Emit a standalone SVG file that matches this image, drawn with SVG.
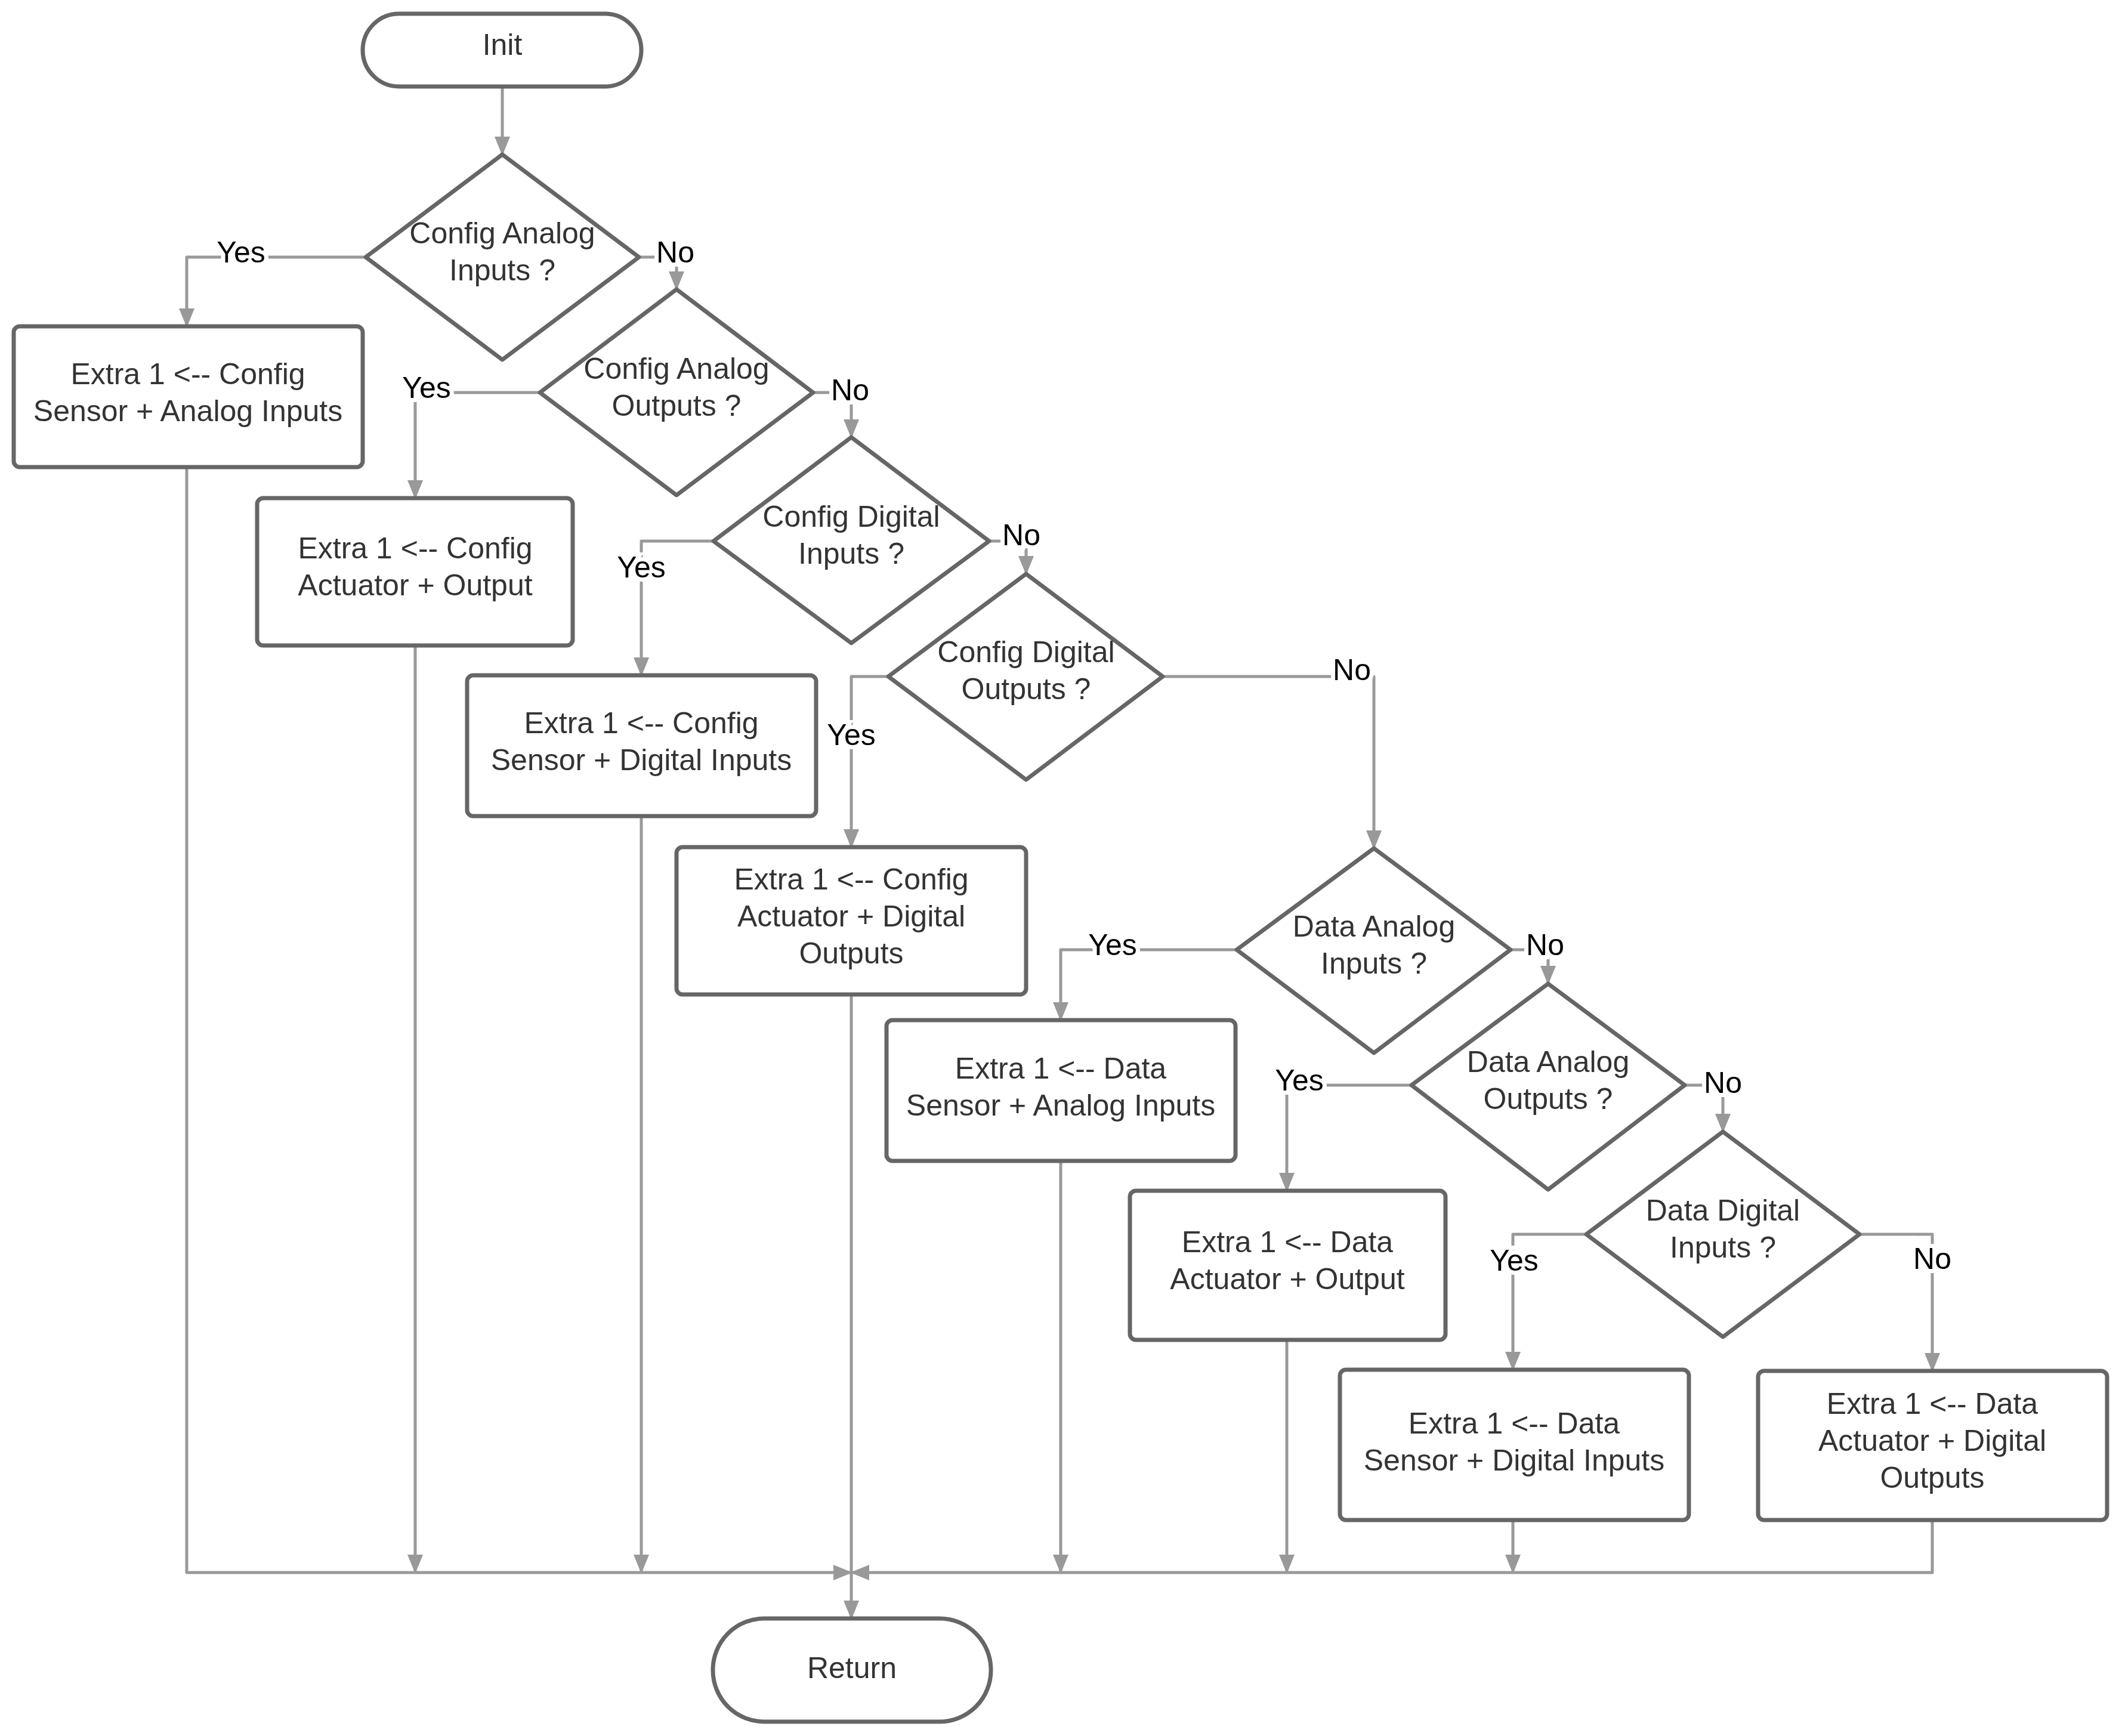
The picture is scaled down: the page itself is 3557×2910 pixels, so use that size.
<svg xmlns="http://www.w3.org/2000/svg" width="3557" height="2910" viewBox="0 0 3557 2910">
<style>
.n{fill:#fff;stroke:#666;stroke-width:7}
.t{font-family:"Liberation Sans",Arial,sans-serif;font-size:50px;fill:#333;text-anchor:middle;dominant-baseline:middle}
.c{fill:none;stroke:#999;stroke-width:5;stroke-linejoin:round}
.l{font-family:"Liberation Sans",Arial,sans-serif;font-size:50px;fill:#000;text-anchor:middle;dominant-baseline:middle;stroke:#fff;stroke-width:14;paint-order:stroke}
</style>
<defs>
<marker id="a" markerUnits="userSpaceOnUse" markerWidth="32" markerHeight="26" refX="30" refY="13" orient="auto"><path d="M0 0L32 13L0 26z" fill="#999"/></marker>
</defs>
<g id="connectors">
<path class="c" d="M842 145V259" marker-end="url(#a)"/>
<path class="c" d="M610 431H313V547" marker-end="url(#a)"/>
<path class="c" d="M1071 431H1134V485" marker-end="url(#a)"/>
<path class="c" d="M905 658H696V835" marker-end="url(#a)"/>
<path class="c" d="M1363 658H1427V733" marker-end="url(#a)"/>
<path class="c" d="M1195 907H1075V1132" marker-end="url(#a)"/>
<path class="c" d="M1658 907H1720V962" marker-end="url(#a)"/>
<path class="c" d="M1488 1134H1427V1420" marker-end="url(#a)"/>
<path class="c" d="M1949 1134H2303V1422" marker-end="url(#a)"/>
<path class="c" d="M2073 1592H1778V1710" marker-end="url(#a)"/>
<path class="c" d="M2532 1592H2595V1649" marker-end="url(#a)"/>
<path class="c" d="M2366 1819H2157V1996" marker-end="url(#a)"/>
<path class="c" d="M2824 1819H2888V1897" marker-end="url(#a)"/>
<path class="c" d="M2659 2069H2536V2296" marker-end="url(#a)"/>
<path class="c" d="M3117 2069H3239V2298" marker-end="url(#a)"/>
<path class="c" d="M313 783V2636H1427" marker-end="url(#a)"/>
<path class="c" d="M3239 2548V2636H1427" marker-end="url(#a)"/>
<path class="c" d="M696 1082V2636" marker-end="url(#a)"/>
<path class="c" d="M1075 1368V2636" marker-end="url(#a)"/>
<path class="c" d="M1778 1946V2636" marker-end="url(#a)"/>
<path class="c" d="M2157 2246V2636" marker-end="url(#a)"/>
<path class="c" d="M2536 2548V2636" marker-end="url(#a)"/>
<path class="c" d="M1427 1667V2713" marker-end="url(#a)"/>
<text class="l" x="404" y="427">Yes</text>
<text class="l" x="1132" y="427">No</text>
<text class="l" x="715" y="654">Yes</text>
<text class="l" x="1425" y="658">No</text>
<text class="l" x="1075" y="955">Yes</text>
<text class="l" x="1712" y="901">No</text>
<text class="l" x="1427" y="1236">Yes</text>
<text class="l" x="2266" y="1127">No</text>
<text class="l" x="1865" y="1588">Yes</text>
<text class="l" x="2590" y="1588">No</text>
<text class="l" x="2178" y="1815">Yes</text>
<text class="l" x="2888" y="1819">No</text>
<text class="l" x="2538" y="2117">Yes</text>
<text class="l" x="3239" y="2114">No</text>
</g>
<g id="init"><rect class="n" x="608" y="23" width="467" height="122" rx="61"/><text class="t" x="842" y="79">Init</text></g>
<g id="d1"><path class="n" d="M842 259L1071 431L842 603L613 431Z" stroke-linejoin="round"/><text class="t" x="842" y="395">Config Analog</text><text class="t" x="842" y="457">Inputs ?</text></g>
<g id="d2"><path class="n" d="M1134 485L1363 658L1134 830L905 658Z" stroke-linejoin="round"/><text class="t" x="1134" y="622">Config Analog</text><text class="t" x="1134" y="684">Outputs ?</text></g>
<g id="d3"><path class="n" d="M1427 733L1658 907L1427 1078L1196 907Z" stroke-linejoin="round"/><text class="t" x="1427" y="870">Config Digital</text><text class="t" x="1427" y="932">Inputs ?</text></g>
<g id="d4"><path class="n" d="M1720 962L1949 1134L1720 1307L1489 1134Z" stroke-linejoin="round"/><text class="t" x="1720" y="1097">Config Digital</text><text class="t" x="1720" y="1159">Outputs ?</text></g>
<g id="d5"><path class="n" d="M2303 1422L2532 1592L2303 1765L2073 1592Z" stroke-linejoin="round"/><text class="t" x="2303" y="1557">Data Analog</text><text class="t" x="2303" y="1619">Inputs ?</text></g>
<g id="d6"><path class="n" d="M2595 1649L2824 1819L2595 1994L2366 1819Z" stroke-linejoin="round"/><text class="t" x="2595" y="1784">Data Analog</text><text class="t" x="2595" y="1846">Outputs ?</text></g>
<g id="d7"><path class="n" d="M2888 1897L3117 2069L2888 2241L2659 2069Z" stroke-linejoin="round"/><text class="t" x="2888" y="2033">Data Digital</text><text class="t" x="2888" y="2095">Inputs ?</text></g>
<g id="b1"><rect class="n" x="23" y="547" width="585" height="236" rx="10"/><text class="t" x="315" y="631">Extra 1  &lt;-- Config</text><text class="t" x="315" y="693">Sensor + Analog Inputs</text></g>
<g id="b2"><rect class="n" x="431" y="835" width="529" height="247" rx="10"/><text class="t" x="696" y="923">Extra 1  &lt;-- Config</text><text class="t" x="696" y="985">Actuator + Output</text></g>
<g id="b3"><rect class="n" x="783" y="1132" width="585" height="236" rx="10"/><text class="t" x="1075" y="1216">Extra 1  &lt;-- Config</text><text class="t" x="1075" y="1278">Sensor + Digital Inputs</text></g>
<g id="b4"><rect class="n" x="1134" y="1420" width="586" height="247" rx="10"/><text class="t" x="1427" y="1478">Extra 1  &lt;-- Config</text><text class="t" x="1427" y="1540">Actuator + Digital</text><text class="t" x="1427" y="1602">Outputs</text></g>
<g id="b5"><rect class="n" x="1486" y="1710" width="585" height="236" rx="10"/><text class="t" x="1778" y="1795">Extra 1  &lt;-- Data</text><text class="t" x="1778" y="1857">Sensor + Analog Inputs</text></g>
<g id="b6"><rect class="n" x="1894" y="1996" width="529" height="250" rx="10"/><text class="t" x="2158" y="2086">Extra 1  &lt;-- Data</text><text class="t" x="2158" y="2148">Actuator + Output</text></g>
<g id="b7"><rect class="n" x="2246" y="2296" width="585" height="252" rx="10"/><text class="t" x="2538" y="2390">Extra 1  &lt;-- Data</text><text class="t" x="2538" y="2452">Sensor + Digital Inputs</text></g>
<g id="b8"><rect class="n" x="2947" y="2298" width="585" height="250" rx="10"/><text class="t" x="3239" y="2357">Extra 1  &lt;-- Data</text><text class="t" x="3239" y="2419">Actuator + Digital</text><text class="t" x="3239" y="2481">Outputs</text></g>
<g id="return"><rect class="n" x="1195" y="2713" width="466" height="173" rx="86"/><text class="t" x="1428" y="2800">Return</text></g>
</svg>
